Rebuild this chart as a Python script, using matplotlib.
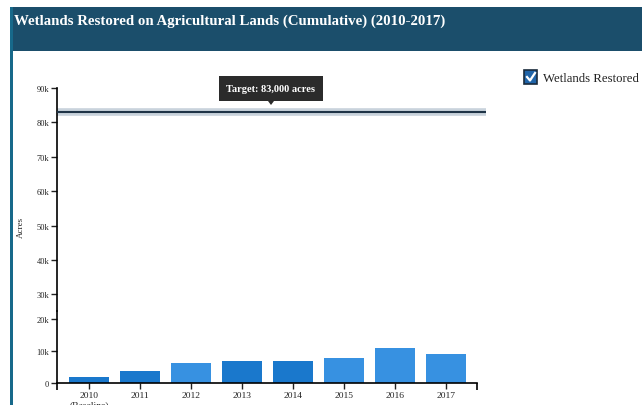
import matplotlib.pyplot as plt
from matplotlib.patches import Rectangle, Polygon
from matplotlib.lines import Line2D

years = ["2010\n(Baseline)", "2011", "2012", "2013", "2014", "2015", "2016", "2017"]
acres = [2000, 3700, 6400, 6900, 7000, 7800, 11000, 9200]
target = 83000
upper_ticks = [30000, 40000, 50000, 60000, 70000, 80000, 90000]
lower_ticks = [0, 10000, 20000]

dark_blue = "#1a78cc"
light_blue = "#3791e1"
bar_colors = [dark_blue, dark_blue, light_blue, dark_blue, dark_blue, light_blue, light_blue, light_blue]

W, H = 642, 406
plt.rcParams["font.family"] = ["Liberation Serif", "DejaVu Serif"]
fig = plt.figure(figsize=(W / 100, H / 100), dpi=100)
fig.patch.set_facecolor("white")


def fx(px):
    return px / W


def fy(py):
    return 1 - py / H


# header band and card border
fig.add_artist(Rectangle((fx(10), fy(52)), 1, fy(8) - fy(52), transform=fig.transFigure,
                         facecolor="#1b4e6b", edgecolor="none"))
fig.add_artist(Rectangle((fx(10), 0), fx(2.5), fy(8), transform=fig.transFigure,
                         facecolor="#17698a", edgecolor="none"))
fig.text(fx(14), fy(21), "Wetlands Restored on Agricultural Lands (Cumulative) (2010-2017)",
         color="white", fontsize=10.7, fontweight="bold", va="center", ha="left")

x = list(range(len(years)))
xlim = (-0.63, len(years) - 1 + 0.61)

# upper (broken) part of the axis
ax_top = fig.add_axes([fx(57), fy(312), fx(477) - fx(57), fy(89) - fy(312)])
ax_top.set_xlim(xlim)
ax_top.set_ylim(25200, 90000)
ax_top.set_yticks(upper_ticks)
ax_top.set_yticklabels([f"{t // 1000}k" for t in upper_ticks])
ax_top.set_xticks([])
for s in ("top", "right", "bottom"):
    ax_top.spines[s].set_visible(False)
ax_top.spines["left"].set_linewidth(1.2)
ax_top.tick_params(axis="y", labelsize=6, length=4, width=1, pad=1.5, colors="#222222")
ax_top.patch.set_alpha(0)

# target line with a soft band around it
ax_top.axhline(target, xmin=0, xmax=1.022, color="#c9d3dc", linewidth=5.5, clip_on=False,
               solid_capstyle="butt", zorder=2)
ax_top.axhline(target, xmin=0, xmax=1.022, color="#1f3447", linewidth=1.5, clip_on=False,
               solid_capstyle="butt", zorder=3)

# lower part with the bars
ax = fig.add_axes([fx(57), fy(384), fx(477) - fx(57), fy(312) - fy(384)])
ax.bar(x, acres, width=0.78, color=bar_colors, edgecolor="none", zorder=2)
ax.set_xlim(xlim)
ax.set_ylim(0, 22600)
ax.set_yticks(lower_ticks)
ax.set_yticklabels([f"{t // 1000}k" if t else "0" for t in lower_ticks])
ax.set_xticks(x)
ax.set_xticklabels(years)
ax.set_xticks(list(xlim), minor=True)
for s in ("top", "right"):
    ax.spines[s].set_visible(False)
ax.spines["left"].set_linewidth(1.2)
ax.spines["bottom"].set_linewidth(1.2)
ax.tick_params(axis="y", labelsize=6, length=4, width=1, pad=1.5, colors="#222222")
ax.tick_params(axis="x", labelsize=6.8, length=4, width=1, pad=2, colors="#222222")
ax.tick_params(axis="x", which="minor", length=5, width=1.2)
ax.patch.set_alpha(0)

fig.text(fx(21), fy(227), "Acres", rotation=90, fontsize=6.5, ha="center", va="center",
         color="#222222")

# tooltip for the target
fig.add_artist(Rectangle((fx(219), fy(102)), fx(323) - fx(219), fy(77) - fy(102),
                         transform=fig.transFigure, facecolor="#2b2b2b", edgecolor="none"))
fig.add_artist(Polygon([(fx(268), fy(102)), (fx(274), fy(102)), (fx(271), fy(106))],
                       closed=True, transform=fig.transFigure, facecolor="#2b2b2b",
                       edgecolor="none"))
fig.text(fx(271), fy(90), f"Target: {target:,} acres", color="white", fontsize=7.5,
         fontweight="bold", ha="center", va="center")

# legend entry with a checkbox
fig.add_artist(Rectangle((fx(524), fy(85)), fx(13), fy(71) - fy(85), transform=fig.transFigure,
                         facecolor="#2064a8", edgecolor="#1a2b3c", linewidth=1.2))
fig.add_artist(Line2D([fx(527), fx(530), fx(535)], [fy(78), fy(81.5), fy(74)],
                      transform=fig.transFigure, color="white", linewidth=1.6))
fig.text(fx(543), fy(78.5), "Wetlands Restored", fontsize=9.2, ha="left", va="center",
         color="#222222")

fig.savefig("out.png", dpi=100)
